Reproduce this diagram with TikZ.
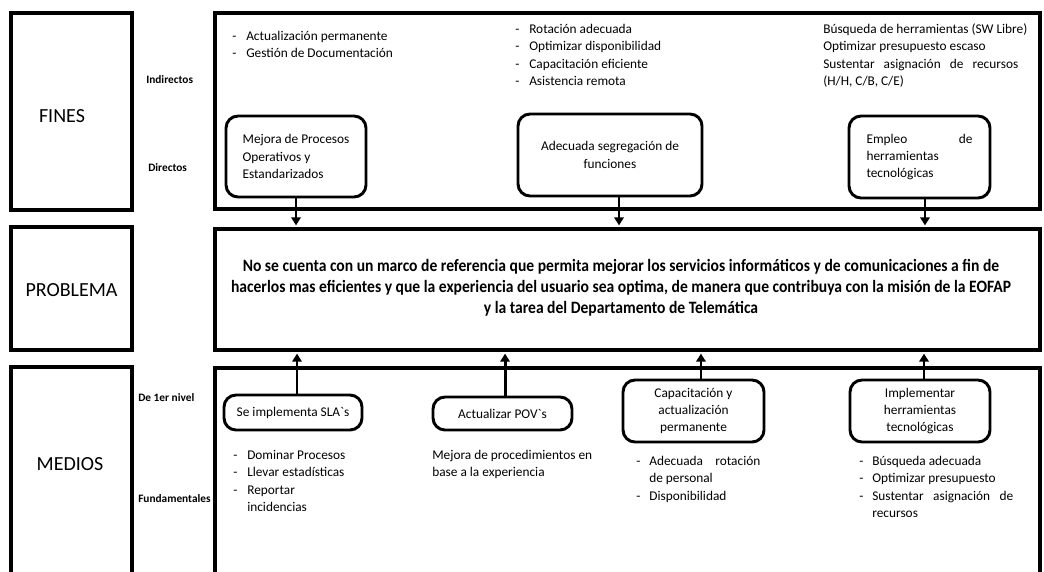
\documentclass[tikz,border=0pt]{standalone}
\usepackage{fontspec}
\newfontfamily\calfont{Carlito}
\newfontfamily\condfont{Carlito}[FakeStretch=0.9]
\usetikzlibrary{arrows.meta}

% list with a dash column
\newcommand{\dashlist}[2][10.5pt]{\begin{tabular}[t]{@{}p{#1}@{}l@{}}#2\end{tabular}}
\newcommand{\plainlist}[1]{\begin{tabular}[t]{@{}l@{}}#1\end{tabular}}

\begin{document}
\begin{tikzpicture}[x=0.75pt,y=-0.75pt,
  frame/.style={draw, line width=3pt, inner sep=0pt},
  rbox/.style={draw, line width=2.2pt, rounded corners=9pt, inner sep=0pt, align=center,
               font=\calfont\fontsize{10}{13}\selectfont},
  link/.style={line width=2.2pt, shorten >=1.2pt, -{Triangle[width=7pt,length=6pt]}},
  txt/.style={inner sep=0pt, anchor=base west, font=\calfont\fontsize{10}{13}\selectfont},
  side/.style={inner sep=0pt, font=\calfont\fontsize{15}{18}\selectfont},
  level/.style={inner sep=0pt, anchor=base west, font=\calfont\bfseries\fontsize{8.5}{10}\selectfont},
]
\useasboundingbox (0,0) rectangle (1044,571);

% row frames
\node[frame, minimum width=90.75pt, minimum height=147.75pt] (finesbox) at (71.5,111.5) {};
\node[frame, minimum width=618.75pt, minimum height=147pt] (top) at (627.5,111) {};
\node[frame, minimum width=90.75pt, minimum height=92.25pt] (probbox) at (71.5,288.5) {};
\node[frame, minimum width=618.75pt, minimum height=90.75pt] (prob) at (627.5,289.5) {};
\node[frame, minimum width=90.75pt, minimum height=174.75pt] (mediosbox) at (71.5,483.5) {};
\node[frame, minimum width=618.75pt, minimum height=174pt] (bottom) at (627.5,484) {};

% row titles
\node[side] (fines) at (62,116) {FINES};
\node[side] (problema) at (71.5,290) {PROBLEMA};
\node[side] (medios) at (70,464) {MEDIOS};

% level labels
\node[level] (indir) at (146,83) {Indirectos};
\node[level] (dir) at (148,171) {Directos};
\node[level] (nivel) at (138,401) {De 1er nivel};
\node[level] (fund) at (138,502) {Fundamentales};

% indirect ends
\node[txt] (ind1) at (232,40.5) {\dashlist{- & Actualización permanente\\ - & Gestión de Documentación}};
\node[txt] (ind2) at (515,33.5) {\dashlist{- & Rotación adecuada\\ - & Optimizar disponibilidad\\ - & Capacitación eficiente\\ - & Asistencia remota}};
\node[txt] (ind3) at (823,33.5) {\plainlist{Búsqueda de herramientas (SW Libre)\\ Optimizar presupuesto escaso\\ \makebox[146.25pt][s]{Sustentar asignación de recursos}\\ (H/H, C/B, C/E)}};

% direct ends
\node[rbox, align=left, minimum width=105pt, minimum height=60.75pt] (mejora) at (296,156.5)
  {Mejora de Procesos\\ Operativos y\\ Estandarizados};
\node[rbox, minimum width=138pt, minimum height=61.5pt] (adec) at (610,155)
  {Adecuada segregación de\\ funciones};
\node[rbox, align=left, minimum width=105.75pt, minimum height=61.5pt] (empleo) at (919.5,157)
  {\makebox[79.5pt][s]{Empleo de}\\ herramientas\\ tecnológicas};

% central problem
\node[inner sep=0pt, align=center, font=\condfont\bfseries\fontsize{13}{15.6}\selectfont] (problem) at (621,288)
  {No se cuenta con un marco de referencia que permita mejorar los servicios informáticos y de comunicaciones a fin de\\
   hacerlos mas eficientes y que la experiencia del usuario sea optima, de manera que contribuya con la misión de la EOFAP\\
   y la tarea del Departamento de Telemática};

% first level means
\node[rbox, minimum width=103.5pt, minimum height=26.25pt] (sla) at (293,412.5) {Se implementa SLA\symbol{96}s};
\node[rbox, minimum width=104.25pt, minimum height=24.75pt] (pov) at (502.5,413.5) {Actualizar POV\symbol{96}s};
\node[rbox, minimum width=105.75pt, minimum height=46.5pt] (capac) at (693.5,411)
  {Capacitación y\\ actualización\\ permanente};
\node[rbox, minimum width=105pt, minimum height=46.5pt] (implem) at (920,411)
  {Implementar\\ herramientas\\ tecnológicas};

% fundamental means
\node[txt] (fund1) at (233,459.5) {\dashlist{- & Dominar Procesos\\ - & Llevar estadísticas\\ - & Reportar\\ & incidencias}};
\node[txt] (fund2) at (432,459.5) {\plainlist{Mejora de procedimientos en\\ base a la experiencia}};
\node[txt] (fund3) at (636,465.5) {\dashlist[9.8pt]{- & \makebox[83.25pt][s]{Adecuada rotación}\\ & de personal\\ - & Disponibilidad}};
\node[txt] (fund4) at (859,465.5) {\dashlist[9.8pt]{- & Búsqueda adecuada\\ - & Optimizar presupuesto\\ - & \makebox[105.75pt][s]{Sustentar asignación de}\\ & recursos}};

% ends point down to the problem
\draw[link] (mejora.south) -- (mejora.south |- prob.north);
\draw[link] ([xshift=6.75pt]adec.south) -- ([xshift=6.75pt]adec.south |- prob.north);
\draw[link] ([xshift=4.1pt]empleo.south) -- ([xshift=4.1pt]empleo.south |- prob.north);

% means point up to the problem
\draw[link] ([xshift=3pt]sla.north) -- ([xshift=3pt]sla.north |- prob.south);
\draw[link] ([xshift=1.9pt]pov.north) -- ([xshift=1.9pt]pov.north |- prob.south);
\draw[link] ([xshift=5.6pt]capac.north) -- ([xshift=5.6pt]capac.north |- prob.south);
\draw[link] ([xshift=3pt]implem.north) -- ([xshift=3pt]implem.north |- prob.south);
\end{tikzpicture}
\end{document}
